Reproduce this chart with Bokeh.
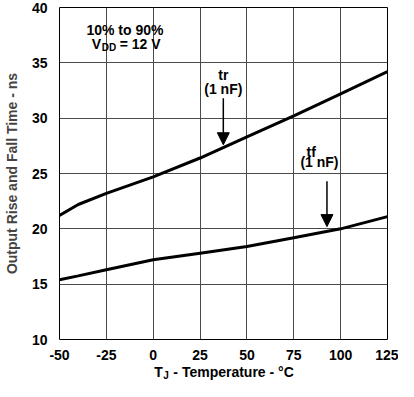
from bokeh.plotting import figure
from bokeh.layouts import column
from bokeh.models import Range1d, FixedTicker, Arrow, NormalHead, Label
from bokeh.core.properties import value
from bokeh.embed import file_html
from bokeh.resources import INLINE

# Data
temp = [-50, -40, -25, 0, 25, 50, 75, 100, 125]
tr_ns = [21.2, 22.2, 23.2, 24.7, 26.4, 28.3, 30.2, 32.2, 34.2]
tf_ns = [15.4, 15.75, 16.3, 17.2, 17.8, 18.4, 19.2, 20.0, 21.1]
x_ticks = [-50, -25, 0, 25, 50, 75, 100, 125]
y_ticks = [10, 15, 20, 25, 30, 35, 40]

# Annotations (data coordinates)
arrow_x = [37.4, 92.7]
arrow_y_start = [31.8, 24.3]
arrow_y_end = [27.6, 20.2]

y_title = "Output Rise and Fall Time - ns"
x_title_parts = ["T", "J", "- Temperature - °C"]

FONT = "Liberation Sans"
LEFT, RIGHT = 50, 11

p = figure(width=398, height=362, output_backend="svg", toolbar_location=None,
           x_range=Range1d(-50, 125), y_range=Range1d(10, 40),
           min_border_left=LEFT, min_border_right=RIGHT, min_border_top=7, min_border_bottom=21)
p.background_fill_color = "white"
p.border_fill_color = "white"
p.outline_line_color = "black"
p.outline_line_width = 1

for ax in (p.xaxis[0], p.yaxis[0]):
    ax.major_tick_line_color = None
    ax.minor_tick_line_color = None
    ax.axis_line_color = None
    ax.major_label_text_font = FONT
    ax.major_label_text_font_style = "bold"
    ax.major_label_text_font_size = "14px"
    ax.major_label_text_color = "black"

p.xaxis.ticker = FixedTicker(ticks=x_ticks)
p.yaxis.ticker = FixedTicker(ticks=y_ticks)
p.xaxis.major_label_standoff = 4
p.yaxis.major_label_standoff = 6
p.xaxis.major_label_overrides = {t: ("-" + str(abs(t)) if t < 0 else str(t)) for t in x_ticks}

p.yaxis.axis_label = y_title
p.yaxis.axis_label_text_font = FONT
p.yaxis.axis_label_text_font_style = "bold"
p.yaxis.axis_label_text_font_size = "14px"
p.yaxis.axis_label_standoff = 9

p.xgrid.ticker = FixedTicker(ticks=x_ticks)
p.ygrid.ticker = FixedTicker(ticks=y_ticks)
p.grid.grid_line_color = "#4a4a4a"
p.grid.grid_line_width = 1

p.line(temp, tr_ns, line_color="black", line_width=3)
p.line(temp, tf_ns, line_color="black", line_width=3)

for x, y0, y1 in zip(arrow_x, arrow_y_start, arrow_y_end):
    p.add_layout(Arrow(x_start=x, y_start=y0, x_end=x, y_end=y1,
                       line_color="black", line_width=1.5,
                       end=NormalHead(size=12, fill_color="black", line_color="black")))

def lab(x, y, text, size="14px", align="center", x_off=0, y_off=0):
    p.add_layout(Label(x=x, y=y, text=text, text_font=FONT,
                       text_font_style="bold", text_font_size=size,
                       text_align=align, text_baseline="middle",
                       x_offset=x_off, y_offset=y_off, text_color="black"))

# tr label
lab(37.4, 33.9, "tr")
lab(37.4, 32.6, "(1 nF)")
# tf label
lab(88.7, 26.0, "(1 nF)")
lab(84.3, 26.9, "tf")
# conditions
lab(-15.1, 38.0, "10% to 90%")
lab(-32.8, 36.7, "V", align="left")
lab(-32.8, 36.7, "DD", size="10px", align="left", x_off=10, y_off=-3)
lab(-32.8, 36.7, "= 12 V", align="left", x_off=28)

# x-axis title strip (separate figure so the subscript can be drawn as text)
p2 = figure(width=398, height=19, output_backend="svg", toolbar_location=None,
            x_range=p.x_range, y_range=Range1d(0, 1),
            min_border_left=LEFT, min_border_right=RIGHT, min_border_top=0, min_border_bottom=0)
p2.axis.visible = False
p2.grid.visible = False
p2.outline_line_color = None
p2.background_fill_color = "white"
p2.border_fill_color = "white"
x0 = 0.6
p2.text(x=[x0], y=[0.5], text=[x_title_parts[0]], text_font=value(FONT), text_font_style="bold",
        text_font_size="14px", text_align="left", text_baseline="middle", text_color="black")
p2.text(x=[x0], y=[0.5], text=[x_title_parts[1]], text_font=value(FONT), text_font_style="bold",
        text_font_size="10px", text_align="left", text_baseline="middle", text_color="black",
        x_offset=9, y_offset=3)
p2.text(x=[x0], y=[0.5], text=[x_title_parts[2]], text_font=value(FONT), text_font_style="bold",
        text_font_size="14px", text_align="left", text_baseline="middle", text_color="black",
        x_offset=19)

layout = column(p, p2, spacing=0)
open("out.html", "w").write(file_html(layout, INLINE))
